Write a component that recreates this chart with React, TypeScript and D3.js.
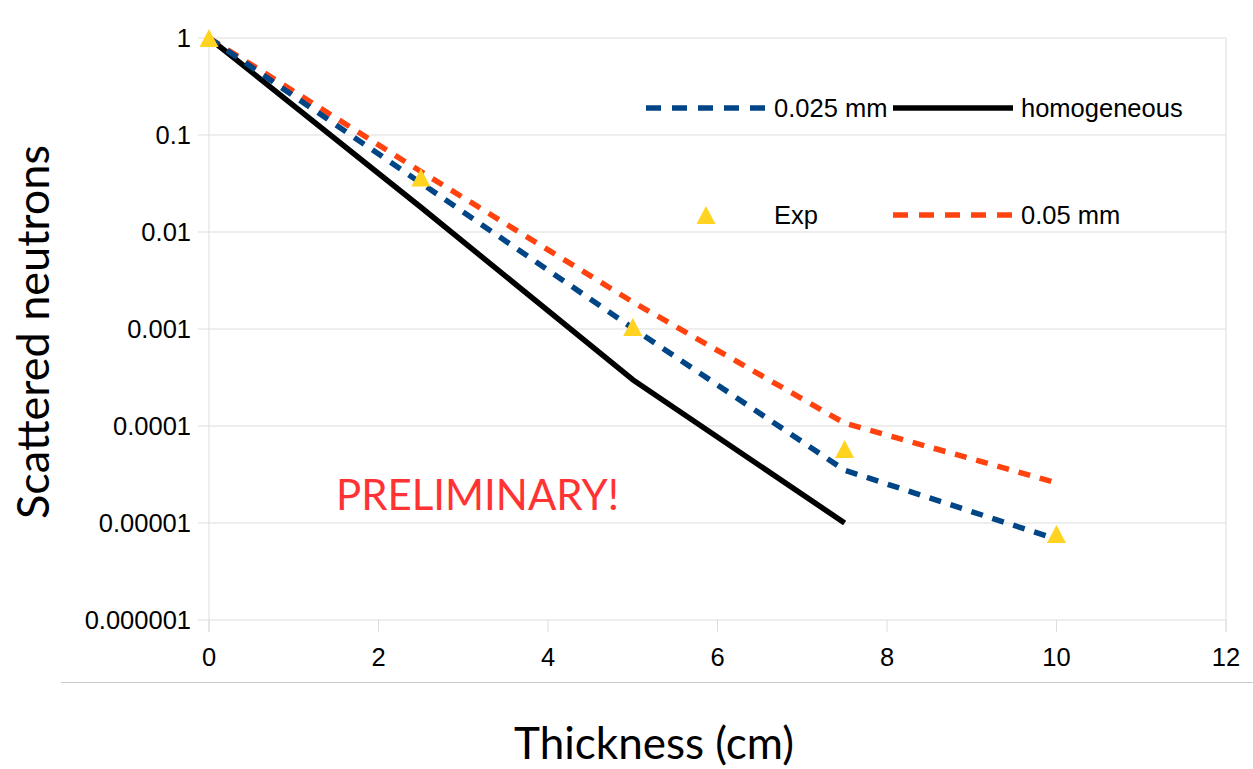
import React from "react";
import * as d3 from "d3";

const thickness = [0, 2.5, 5, 7.5, 10];
const thicknessHomog = [0, 2.5, 5, 7.5];
const exp = [1, 0.0365, 0.00105, 0.000058, 0.0000077];
const mm025 = [1, 0.032, 0.00102, 0.000035, 0.0000068];
const mm05 = [1, 0.042, 0.0019, 0.000107, 0.000026];
const homogeneous = [1, 0.018, 0.0003, 0.00001];
const xTicks = [0, 2, 4, 6, 8, 10, 12];
const yTicks = [1, 0.1, 0.01, 0.001, 0.0001, 0.00001, 0.000001];
const yTickLabels = ["1", "0.1", "0.01", "0.001", "0.0001", "0.00001", "0.000001"];

const W = 1253, H = 769;
const BLUE = "#004586", RED = "#ff420e", YEL = "#ffd320";

export default function App() {
  const x = d3.scaleLinear().domain([0, 12]).range([209, 1226]);
  const y = d3.scaleLog().domain([0.000001, 1]).range([620, 38]);
  const line = d3.line<[number, number]>().x(d => x(d[0])).y(d => y(d[1]));
  const pts = (xs: number[], vs: number[]) => xs.map((t, i) => [t, vs[i]] as [number, number]);
  const tri = (cx: number, cy: number) => `M${cx},${cy - 9}L${cx + 9.5},${cy + 9}L${cx - 9.5},${cy + 9}Z`;
  const tickFont = "'Liberation Sans', Arial, sans-serif";
  const fs = 25.5;
  return (
    <svg width={W} height={H} style={{ position: "absolute", left: 0, top: 0, background: "#fff" }}>
      <rect x={0} y={0} width={W} height={H} fill="#fff" />
      {yTicks.map((v, i) => (
        <g key={"y" + i}>
          <line x1={198} x2={1226} y1={y(v)} y2={y(v)} stroke="#dddddd" strokeWidth={1} />
          <text x={191} y={y(v)} dy="0.35em" textAnchor="end" fontFamily={tickFont} fontSize={fs} fill="#000">{yTickLabels[i]}</text>
        </g>
      ))}
      <line x1={x(0)} x2={x(0)} y1={38} y2={632} stroke="#dddddd" strokeWidth={1} />
      <line x1={x(12)} x2={x(12)} y1={38} y2={632} stroke="#dddddd" strokeWidth={1} />
      {xTicks.map((t, i) => (
        <g key={"x" + i}>
          <line x1={x(t)} x2={x(t)} y1={620} y2={632} stroke="#dddddd" strokeWidth={1} />
          <text x={x(t)} y={666} textAnchor="middle" fontFamily={tickFont} fontSize={fs} fill="#000">{t}</text>
        </g>
      ))}
      <line x1={61} x2={W} y1={682.5} y2={682.5} stroke="#cccccc" strokeWidth={1} />

      <path d={line(pts(thicknessHomog, homogeneous)) || ""} fill="none" stroke="#000" strokeWidth={5.5} strokeLinejoin="round" />
      <path d={line(pts(thickness, mm05)) || ""} fill="none" stroke={RED} strokeWidth={5.5} strokeDasharray="12,10" />
      <path d={line(pts(thickness, mm025)) || ""} fill="none" stroke={BLUE} strokeWidth={5.5} strokeDasharray="12,10" />
      {thickness.map((t, i) => (
        <path key={"e" + i} d={tri(x(t), y(exp[i]))} fill={YEL} />
      ))}

      {/* legend */}
      <line x1={646} x2={766} y1={108} y2={108} stroke={BLUE} strokeWidth={5.5} strokeDasharray="15,11" />
      <text x={774} y={108} dy="0.35em" fontFamily={tickFont} fontSize={fs} fill="#000">0.025 mm</text>
      <line x1={893} x2={1013} y1={108} y2={108} stroke="#000" strokeWidth={5.5} />
      <text x={1021} y={108} dy="0.35em" fontFamily={tickFont} fontSize={fs} fill="#000">homogeneous</text>
      <path d={tri(706, 215)} fill={YEL} />
      <text x={774} y={215} dy="0.35em" fontFamily={tickFont} fontSize={fs} fill="#000">Exp</text>
      <line x1={893} x2={1013} y1={215} y2={215} stroke={RED} strokeWidth={5.5} strokeDasharray="15,11" />
      <text x={1021} y={215} dy="0.35em" fontFamily={tickFont} fontSize={fs} fill="#000">0.05 mm</text>

      <text x={336} y={510} fontFamily="Lato, sans-serif" fontSize={42} fill="#ff3333">PRELIMINARY!</text>
      <text x={654} y={759} textAnchor="middle" fontFamily="Lato, sans-serif" fontSize={44} fill="#000">Thickness (cm)</text>
      <text transform="translate(49,332) rotate(-90)" textAnchor="middle" fontFamily="Lato, sans-serif" fontSize={45} fill="#000">Scattered neutrons</text>
    </svg>
  );
}
